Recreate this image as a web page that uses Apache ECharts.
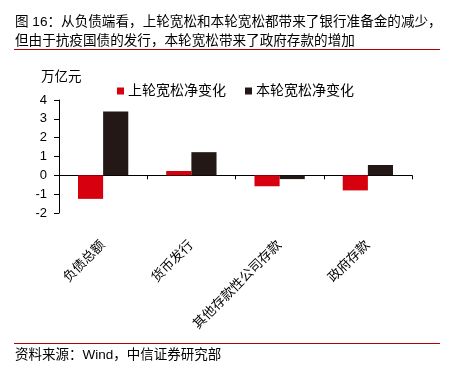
<!DOCTYPE html>
<html>
<head>
<meta charset="utf-8">
<script src="https://cdn.jsdelivr.net/npm/echarts@6/dist/echarts.min.js"></script>
<style>
  html, body { margin: 0; padding: 0; background: #fff; }
  #main { width: 457px; height: 378px; }
</style>
</head>
<body>
<div id="main"></div>
<script>
// 数据
var categories = ['负债总额', '货币发行', '其他存款性公司存款', '政府存款'];
var lastRound = [-1.25, 0.23, -0.58, -0.8];   // 上轮宽松净变化
var thisRound = [3.39, 1.23, -0.2, 0.55];     // 本轮宽松净变化
var seriesNames = ['上轮宽松净变化', '本轮宽松净变化'];

var FONT = '"Liberation Sans", Arial, "Noto Sans CJK SC", sans-serif';
var RED = '#d7000f';
var DARK = '#231815';
var LINE_RED = '#b40000';

var myChart = echarts.init(document.getElementById('main'));

var option = {
    animation: false,
    backgroundColor: '#fff',
    textStyle: { fontFamily: FONT },
    graphic: [
        { type: 'text', left: 15, top: 15, style: { text: '图 16：从负债端看，上轮宽松和本轮宽松都带来了银行准备金的减少，', font: '13.6px ' + FONT, fill: '#000' } },
        { type: 'text', left: 15, top: 34, style: { text: '但由于抗疫国债的发行，本轮宽松带来了政府存款的增加', font: '13.6px ' + FONT, fill: '#000' } },
        { type: 'line', shape: { x1: 14, y1: 49.5, x2: 440, y2: 49.5 }, style: { stroke: LINE_RED, lineWidth: 1 } },
        { type: 'text', left: 41, top: 71, style: { text: '万亿元', font: '13.5px ' + FONT, fill: '#000' } },
        { type: 'line', shape: { x1: 14, y1: 343.5, x2: 440, y2: 343.5 }, style: { stroke: LINE_RED, lineWidth: 1 } },
        { type: 'text', left: 15, top: 349, style: { text: '资料来源：Wind，中信证券研究部', font: '13.5px ' + FONT, fill: '#000' } }
    ],
    legend: {
        data: seriesNames,
        left: 112,
        top: 79,
        itemWidth: 7,
        itemHeight: 7,
        itemGap: 19,
        icon: 'rect',
        textStyle: { fontSize: 14, color: '#000', padding: [0, 0, 0, -1] }
    },
    grid: {
        left: 59,
        right: 45,
        top: 100,
        bottom: 165,
        containLabel: false
    },
    xAxis: {
        type: 'category',
        data: categories,
        axisLine: { onZero: true, lineStyle: { color: '#000', width: 1 } },
        axisTick: { show: true, length: 4, lineStyle: { color: '#000' } },
        axisLabel: { interval: 0, rotate: 45, margin: 30, fontSize: 13.2, color: '#000' }
    },
    yAxis: {
        type: 'value',
        min: -2,
        max: 4,
        interval: 1,
        splitLine: { show: false },
        axisLine: { show: true, lineStyle: { color: '#000', width: 1 } },
        axisTick: { show: true, length: 5, lineStyle: { color: '#000' } },
        axisLabel: { fontSize: 13, color: '#000', margin: 12 }
    },
    series: [{
        name: seriesNames[0],
        type: 'bar',
        data: lastRound,
        barGap: '0%',
        barCategoryGap: '43%',
        itemStyle: { color: RED }
    }, {
        name: seriesNames[1],
        type: 'bar',
        data: thisRound,
        barGap: '0%',
        barCategoryGap: '43%',
        itemStyle: { color: DARK }
    }]
};
myChart.setOption(option);
</script>
</body>
</html>
